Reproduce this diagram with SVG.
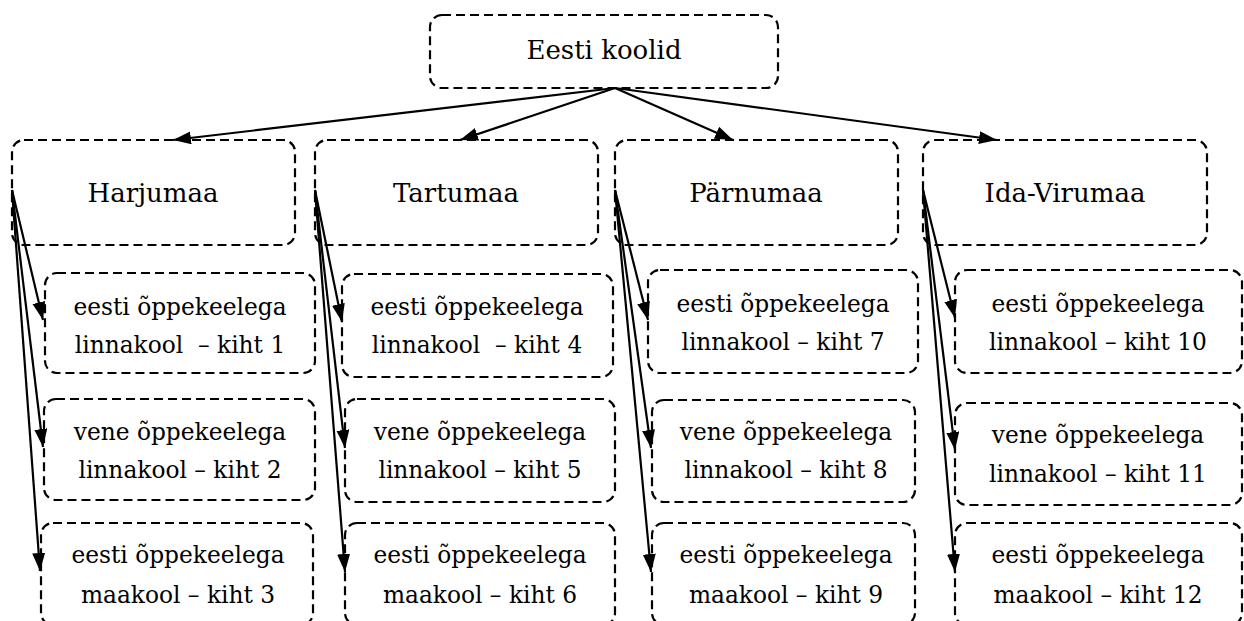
<svg xmlns="http://www.w3.org/2000/svg" width="1244" height="621" viewBox="0 0 1244 621">
<style>
.box{fill:#fff;stroke:#000;stroke-width:2.2;stroke-dasharray:9 5}
text{font-family:"DejaVu Serif","Liberation Serif",serif;text-anchor:middle;fill:#000}
.t1{font-size:26px}
.t2{font-size:23.3px}
.c{stroke:#000;stroke-width:2.2;fill:none;marker-end:url(#ah)}
</style>
<defs>
<marker id="ah" markerUnits="userSpaceOnUse" markerWidth="19" markerHeight="14" refX="18" refY="6.5" orient="auto">
<path d="M0,0 L18,6.5 L0,13 z" fill="#000"/>
</marker>
</defs>
<g id="root"><rect class="box" x="430" y="15" width="348" height="73" rx="12"/><text class="t1" x="604" y="59">Eesti koolid</text></g>
<g id="harjumaa"><rect class="box" x="12" y="140" width="283" height="105" rx="12"/><text class="t1" x="153" y="202">Harjumaa</text></g>
<g id="tartumaa"><rect class="box" x="315" y="140" width="283" height="105" rx="12"/><text class="t1" x="456" y="202">Tartumaa</text></g>
<g id="parnumaa"><rect class="box" x="615" y="140" width="283" height="105" rx="12"/><text class="t1" x="756" y="202">Pärnumaa</text></g>
<g id="idavirumaa"><rect class="box" x="923" y="140" width="284" height="105" rx="12"/><text class="t1" x="1065" y="202">Ida-Virumaa</text></g>

<g id="kiht1"><rect class="box" x="45" y="273" width="270" height="100" rx="12"/><text class="t2" x="180" y="315">eesti õppekeelega</text><text class="t2" x="180" y="353" xml:space="preserve">linnakool  – kiht 1</text></g>
<g id="kiht2"><rect class="box" x="44" y="399" width="271" height="101" rx="12"/><text class="t2" x="180" y="440">vene õppekeelega</text><text class="t2" x="180" y="478">linnakool – kiht 2</text></g>
<g id="kiht3"><rect class="box" x="41" y="523" width="272" height="102" rx="12"/><text class="t2" x="178" y="563">eesti õppekeelega</text><text class="t2" x="178" y="603">maakool – kiht 3</text></g>

<g id="kiht4"><rect class="box" x="342" y="274" width="271" height="103" rx="12"/><text class="t2" x="477" y="315">eesti õppekeelega</text><text class="t2" x="477" y="353" xml:space="preserve">linnakool  – kiht 4</text></g>
<g id="kiht5"><rect class="box" x="345" y="399" width="270" height="103" rx="12"/><text class="t2" x="480" y="440">vene õppekeelega</text><text class="t2" x="480" y="478">linnakool – kiht 5</text></g>
<g id="kiht6"><rect class="box" x="345" y="523" width="270" height="102" rx="12"/><text class="t2" x="480" y="563">eesti õppekeelega</text><text class="t2" x="480" y="603">maakool – kiht 6</text></g>

<g id="kiht7"><rect class="box" x="648" y="270" width="270" height="103" rx="12"/><text class="t2" x="783" y="312">eesti õppekeelega</text><text class="t2" x="783" y="350">linnakool – kiht 7</text></g>
<g id="kiht8"><rect class="box" x="652" y="400" width="263" height="102" rx="12"/><text class="t2" x="786" y="440">vene õppekeelega</text><text class="t2" x="786" y="478">linnakool – kiht 8</text></g>
<g id="kiht9"><rect class="box" x="652" y="523" width="263" height="102" rx="12"/><text class="t2" x="786" y="563">eesti õppekeelega</text><text class="t2" x="786" y="603">maakool – kiht 9</text></g>

<g id="kiht10"><rect class="box" x="955" y="270" width="287" height="103" rx="12"/><text class="t2" x="1098" y="312">eesti õppekeelega</text><text class="t2" x="1098" y="350">linnakool – kiht 10</text></g>
<g id="kiht11"><rect class="box" x="955" y="403" width="287" height="102" rx="12"/><text class="t2" x="1098" y="443">vene õppekeelega</text><text class="t2" x="1098" y="482">linnakool – kiht 11</text></g>
<g id="kiht12"><rect class="box" x="955" y="523" width="287" height="102" rx="12"/><text class="t2" x="1098" y="563">eesti õppekeelega</text><text class="t2" x="1098" y="603">maakool – kiht 12</text></g>

<g id="connectors">
<line class="c" x1="615" y1="88" x2="173" y2="140"/>
<line class="c" x1="615" y1="88" x2="460" y2="140"/>
<line class="c" x1="615" y1="88" x2="733" y2="140"/>
<line class="c" x1="615" y1="88" x2="997" y2="140"/>
<line class="c" x1="12" y1="190" x2="43" y2="320"/>
<line class="c" x1="12" y1="190" x2="43" y2="447"/>
<line class="c" x1="12" y1="190" x2="40" y2="571"/>
<line class="c" x1="315" y1="190" x2="342" y2="322"/>
<line class="c" x1="315" y1="190" x2="345" y2="448"/>
<line class="c" x1="315" y1="190" x2="345" y2="572"/>
<line class="c" x1="615" y1="190" x2="648" y2="320"/>
<line class="c" x1="615" y1="190" x2="651" y2="448"/>
<line class="c" x1="615" y1="190" x2="651" y2="572"/>
<line class="c" x1="923" y1="190" x2="955" y2="318"/>
<line class="c" x1="923" y1="190" x2="955" y2="450"/>
<line class="c" x1="923" y1="190" x2="955" y2="572"/>
</g>
</svg>
